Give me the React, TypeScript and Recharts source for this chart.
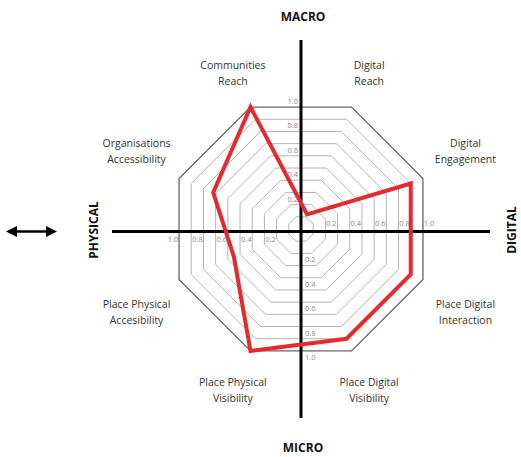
import React from "react";
import {
  RadarChart,
  Radar,
  PolarGrid,
  PolarAngleAxis,
  PolarRadiusAxis,
  Customized,
} from "recharts";

// axis categories, clockwise from the upper-left spoke
const categories = [
  "Communities Reach",
  "Digital Reach",
  "Digital Engagement",
  "Place Digital Interaction",
  "Place Digital Visibility",
  "Place Physical Visibility",
  "Place Physical Accesibility",
  "Organisations Accessibility",
];
const scores = [1.0, 0.12, 0.9, 0.9, 0.9, 1.0, 0.55, 0.72];
const gridLevels = [0.1, 0.2, 0.3, 0.4, 0.5, 0.6, 0.7, 0.8, 0.9];
const outerLevel = [1.0];
const radiusTicks = [0, 0.2, 0.4, 0.6, 0.8, 1.0];

const data = categories.map((category, i) => ({ category, score: scores[i] }));

const W = 521;
const H = 457;
const CX = 301;
const CY = 229;
const R = 132;
const AY = CY + 2.5; // the black cross sits a touch below the grid centre
const ARM = 189;
const COS8 = Math.cos(Math.PI / 8);
const FONT = "'Open Sans', sans-serif";

function AngleTick(props: any) {
  const { x, y, payload } = props;
  const dx = x - CX;
  const dy = y - CY;
  const len = Math.hypot(dx, dy) || 1;
  const cos = dx / len;
  const sin = -dy / len;
  const tx = CX + cos * 178;
  const ty = AY - (144 * sin + 25 * Math.sign(sin));
  const name: string = payload.value;
  const cut = name.lastIndexOf(" ");
  const lines = [name.slice(0, cut), name.slice(cut + 1)];
  return (
    <g fontFamily={FONT} fontSize={10.5} fill="#333">
      {lines.map((l, i) => (
        <text
          key={i}
          x={tx}
          y={ty + (i === 0 ? -8 : 8)}
          textAnchor="middle"
          dominantBaseline="central"
        >
          {l}
        </text>
      ))}
    </g>
  );
}

function RadiusTick(props: any) {
  const { x, payload } = props;
  const v = Number(payload.value);
  if (!v) return null;
  const d = (x - CX) * COS8 + 6;
  const label = v.toFixed(1);
  return (
    <g fontFamily={FONT} fontSize={7.5} fill="#8a8a8a">
      <text x={CX + d} y={AY - 6} textAnchor="middle">{label}</text>
      <text x={CX - 3} y={CY - d} textAnchor="end" dominantBaseline="central">{label}</text>
      <text x={CX - d} y={AY + 10} textAnchor="middle">{label}</text>
      <text x={CX + 4} y={CY + d} textAnchor="start" dominantBaseline="central">{label}</text>
    </g>
  );
}

function CrossAxes() {
  return (
    <g>
      <line x1={CX} y1={CY - ARM} x2={CX} y2={CY + ARM} stroke="#000" strokeWidth={3} />
      <line x1={CX - ARM} y1={AY} x2={CX + ARM} y2={AY} stroke="#000" strokeWidth={3} />
    </g>
  );
}

function Decorations() {
  return (
    <g fontFamily={FONT} fontWeight={700} fontSize={12} fill="#111">
      <text x={303} y={16} textAnchor="middle" dominantBaseline="central">MACRO</text>
      <text x={303} y={447} textAnchor="middle" dominantBaseline="central">MICRO</text>
      <text
        x={511}
        y={230}
        textAnchor="middle"
        dominantBaseline="central"
        transform="rotate(-90 511 230)"
      >
        DIGITAL
      </text>
      <text
        x={93}
        y={230}
        textAnchor="middle"
        dominantBaseline="central"
        transform="rotate(-90 93 230)"
      >
        PHYSICAL
      </text>
      <line x1={14} y1={231.5} x2={49} y2={231.5} stroke="#000" strokeWidth={2.5} />
      <polygon points="6,231.5 17,226 17,237" fill="#000" />
      <polygon points="57,231.5 46,226 46,237" fill="#000" />
    </g>
  );
}

export default function App() {
  return (
    <div style={{ width: W, height: H, background: "#fff" }}>
      <style>{"body{margin:0}"}</style>
      <RadarChart
        width={W}
        height={H}
        data={data}
        cx={CX}
        cy={CY}
        outerRadius={R}
        startAngle={112.5}
        endAngle={-247.5}
        margin={{ top: 0, right: 0, bottom: 0, left: 0 }}
      >
        <PolarGrid
          gridType="polygon"
          radialLines={false}
          polarRadius={gridLevels.map((l) => l * R)}
          stroke="#b4b4b4"
          strokeWidth={1}
        />
        <PolarGrid
          gridType="polygon"
          radialLines={false}
          polarRadius={outerLevel.map((l) => l * R)}
          stroke="#666"
          strokeWidth={1.3}
        />
        <PolarAngleAxis
          dataKey="category"
          tick={<AngleTick />}
          tickLine={false}
          axisLine={false}
        />
        <Customized component={<CrossAxes />} />
        <PolarRadiusAxis
          angle={0}
          type="number"
          domain={[0, 1]}
          ticks={radiusTicks as any}
          tickCount={6}
          allowDecimals={true}
          tick={<RadiusTick />}
          axisLine={false}
          tickLine={false}
        />
        <Radar
          dataKey="score"
          stroke="#e52a2f"
          strokeWidth={4}
          fill="none"
          fillOpacity={0}
          dot={false}
          isAnimationActive={false}
        />
        <Customized component={<Decorations />} />
      </RadarChart>
    </div>
  );
}
